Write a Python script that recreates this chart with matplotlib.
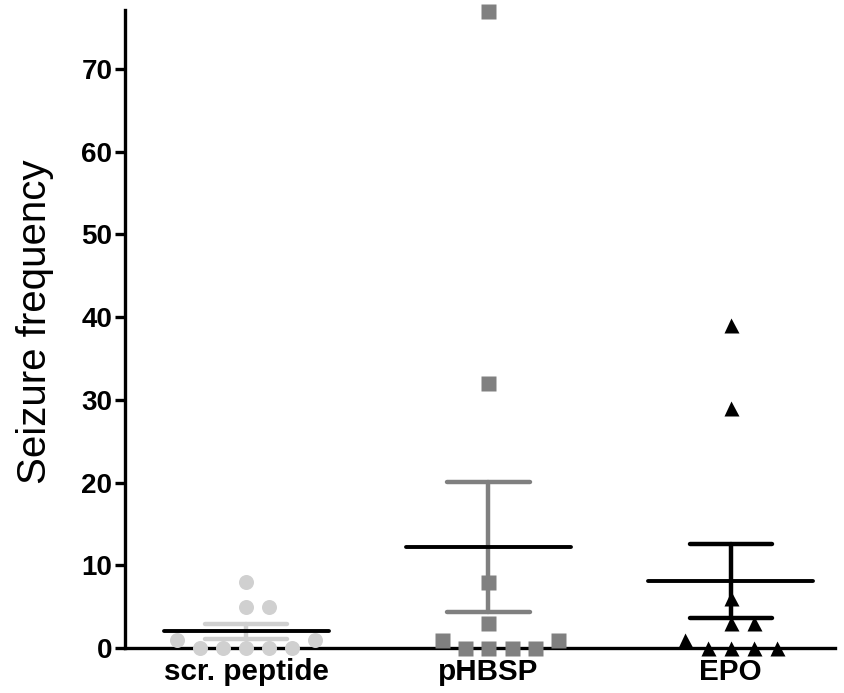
import numpy as np
import matplotlib.pyplot as plt

plt.rcParams['font.family'] = ['Liberation Sans', 'DejaVu Sans']

# data, in the order the animals were entered
groups = ['scr. peptide', 'pHBSP', 'EPO']
scr_peptide = [0, 0, 0, 0, 0, 1, 1, 5, 5, 8]
phbsp = [0, 0, 0, 0, 1, 1, 3, 8, 32, 77]
epo = [0, 0, 0, 0, 1, 3, 3, 6, 29, 39]
yticks = [0, 10, 20, 30, 40, 50, 60, 70]

colors = ['#d0d0d0', '#808080', 'black']
markers = ['o', 's', '^']


def swarm_offsets(values, step=0.095, min_dy=1.8):
    """Simple column scatter: push tied/close points sideways."""
    cands = [0] + [s * i for i in range(1, 20) for s in (1, -1)]
    placed = []
    offsets = []
    for v in values:
        for c in cands:
            if all(abs(c - pc) >= 1 or abs(v - pv) >= min_dy for pc, pv in placed):
                break
        placed.append((c, v))
        offsets.append(c * step)
    return np.array(offsets)


fig = plt.figure(figsize=(8.44, 6.93), dpi=100)
ax = fig.add_axes([125 / 844, 1 - 648 / 693, 710 / 844, 638 / 693])

for i, vals in enumerate([scr_peptide, phbsp, epo]):
    vals = np.array(vals, dtype=float)
    xs = i + swarm_offsets(vals)
    ax.plot(xs, vals, linestyle='none', marker=markers[i], ms=10.8,
            mfc=colors[i], mec='none', clip_on=False, zorder=3)

    mean = vals.mean()
    sem = vals.std(ddof=1) / np.sqrt(len(vals))
    lw_sem = 3.2
    ax.plot([i, i], [mean - sem, mean + sem], color=colors[i], lw=lw_sem,
            solid_capstyle='round', zorder=4)
    for y in (mean - sem, mean + sem):
        ax.plot([i - 0.17, i + 0.17], [y, y], color=colors[i], lw=lw_sem,
                solid_capstyle='round', zorder=4)
    ax.plot([i - 0.34, i + 0.34], [mean, mean], color='black', lw=2.8,
            solid_capstyle='round', zorder=5)

ax.set_xlim(-0.5, 2.43)
ax.set_ylim(0, 77.1)
ax.set_xticks(range(len(groups)))
ax.set_xticklabels(groups, fontsize=21.3, fontweight='bold')
ax.set_yticks(yticks)
ax.set_yticklabels([str(t) for t in yticks], fontsize=20, fontweight='bold')

for side in ('top', 'right'):
    ax.spines[side].set_visible(False)
for side in ('left', 'bottom'):
    ax.spines[side].set_linewidth(2.4)
ax.tick_params(axis='y', length=7, width=2.4, pad=2)
ax.tick_params(axis='x', length=4, width=2.4, pad=3)

fig.text(35 / 844, 1 - 322 / 693, 'Seizure frequency', rotation=90,
         ha='center', va='center', fontsize=29)

fig.savefig('out.png', dpi=100)
plt.close(fig)
